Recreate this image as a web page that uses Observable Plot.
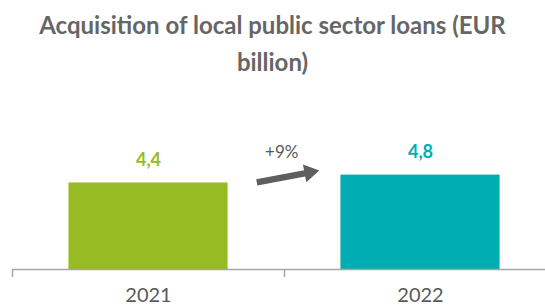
<!DOCTYPE html>
<html><head><meta charset="utf-8">
<script src="https://cdn.jsdelivr.net/npm/d3@7"></script>
<script src="https://cdn.jsdelivr.net/npm/@observablehq/plot@0.6"></script>
<style>
body{margin:0;background:#fff;width:545px;height:307px;overflow:hidden;font-family:Lato,sans-serif}
#title{height:100px;box-sizing:border-box;padding:6px 20px 0;text-align:center;font-weight:bold;font-size:24px;line-height:37px;color:#666666}
#chart svg{display:block}
</style></head><body>
<div id="title">Acquisition of local public sector loans (EUR billion)</div>
<div id="chart"></div>
<script>
const years = ["2021", "2022"];
const values = [4.4, 4.8];
const valueLabels = ["4,4", "4,8"];
const colors = ["#97bb22", "#00adb2"];
const growthLabels = ["+9%"];

const data = years.map((year, i) => ({year, value: values[i], label: valueLabels[i]}));
const growth = [{from: years[0], to: years[1], v1: values[0], v2: values[1], label: growthLabels[0]}];

const xRange = [12, 556];
const step = (xRange[1] - xRange[0]) / years.length;

function growthArrow(index, scales) {
  const x = scales.x, y = scales.y;
  const bw = x.bandwidth ? x.bandwidth() : 0;
  const g = d3.create("svg:g");
  for (const d of growth) {
    const xa = x(d.from) + bw / 2, xb = x(d.to) + bw / 2;
    const x1 = xa + 0.40 * (xb - xa), x2 = xa + 0.63 * (xb - xa);
    const y1 = y(d.v1), y2 = y(d.v2) - 4;
    const ang = Math.atan2(y2 - y1, x2 - x1);
    const L = 15, W = 9, sw = 3.2;
    const c = Math.cos(ang), s = Math.sin(ang);
    const bx = x2 - L * c, by = y2 - L * s;
    const nx = -s, ny = c;
    const pts = [
      [x1 + nx * sw, y1 + ny * sw],
      [bx + nx * sw, by + ny * sw],
      [bx + nx * W, by + ny * W],
      [x2, y2],
      [bx - nx * W, by - ny * W],
      [bx - nx * sw, by - ny * sw],
      [x1 - nx * sw, y1 - ny * sw]
    ];
    g.append("path").attr("d", "M" + pts.map(p => p.join(",")).join("L") + "Z").attr("fill", "#5f5f5f");
  }
  return g.node();
}

const chart = Plot.plot({
  width: 545,
  height: 207,
  marginLeft: 12,
  marginRight: 0,
  marginTop: 51,
  marginBottom: 38,
  style: {fontFamily: "Lato, sans-serif", background: "#fff", overflow: "visible"},
  x: {domain: years, range: xRange, paddingInner: 0.415, paddingOuter: 0.2075, round: false},
  y: {domain: [0, 6], axis: null},
  color: {domain: years, range: colors},
  marks: [
    Plot.barY(data, {x: "year", y: "value", fill: "year"}),
    Plot.ruleY([0], {stroke: "#a6a6a6", strokeWidth: 1.5}),
    Plot.ruleX(years, {x: d => d, dx: -step / 2, y1: 0, y2: 0, insetTop: 0, insetBottom: -8, stroke: "#a6a6a6", strokeWidth: 1.5}),
    Plot.axisX({tickSize: 0, tickPadding: 18, fontSize: 20, color: "#595959", label: null}),
    Plot.text(data, {x: "year", y: "value", text: "label", fill: "year", dy: -23, fontSize: 18, fontWeight: "bold"}),
    Plot.text(growth, {x: "from", y: "v2", text: "label", dx: 0.49 * step, dy: -23, fontSize: 17, fill: "#595959"}),
    growthArrow
  ]
});
document.getElementById("chart").appendChild(chart);
</script>
</body></html>
